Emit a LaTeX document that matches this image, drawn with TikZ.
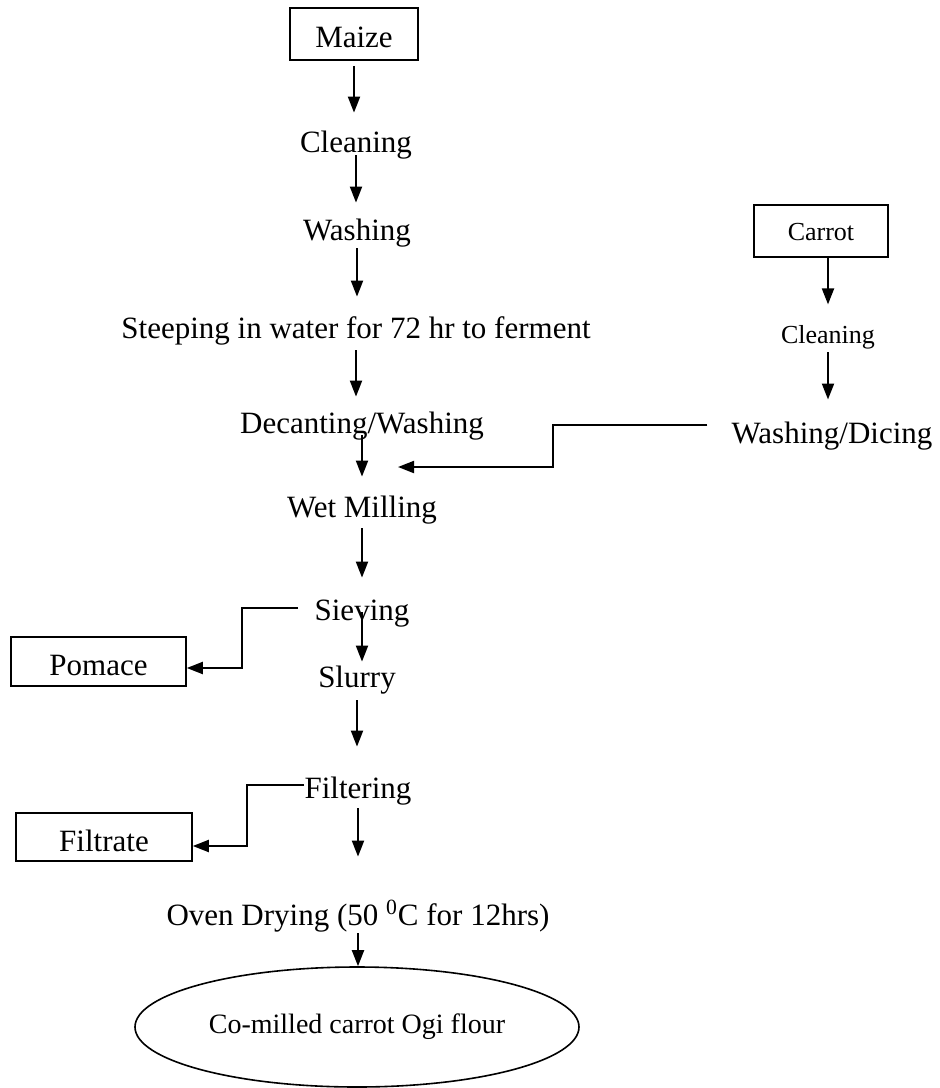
\documentclass[tikz,border=0pt]{standalone}
\usepackage{fontspec}
\setmainfont{Liberation Serif}
\usetikzlibrary{arrows.meta,shapes.geometric}

\begin{document}
\begin{tikzpicture}[x=.5pt,y=-.5pt,font=\fontsize{15.5}{18}\selectfont,
 >={Triangle[length=8pt,width=6pt]},
 stage/.style={inner sep=0pt,text height=10.85pt,text depth=3.4pt,anchor=base},
 stagebox/.style={draw,line width=.8pt,inner sep=0pt,text height=13.5pt,text depth=0pt},
 smalltext/.style={font=\fontsize{13}{15}\selectfont,text height=9.1pt,text depth=2.86pt},
 flow/.style={->,line width=1pt}]
\useasboundingbox (0,0) rectangle (939,1088);
% Maize line, top to bottom.
\node[stagebox,minimum width=64pt,minimum height=26pt,text height=13.2pt] (maize) at (354,34) {Maize};
\node[stage] (clean1) at (356,152) {Cleaning};
\node[stage] (wash1) at (357,240) {Washing};
\node[stage] (steep) at (356,338) {Steeping in water for 72 hr to ferment};
\node[stage] (decant) at (362,433) {Decanting/Washing};
\node[stage] (wetmill) at (362,517) {Wet Milling};
\node[stage] (sieve) at (362,620) {Sieving};
\node[stage] (slurry) at (357,687) {Slurry};
\node[stage] (filt) at (358,798) {Filtering};
\node[stage] (oven) at (358,925) {Oven Drying (50 \textsuperscript{0}C for 12hrs)};
\node[ellipse,draw,line width=.8pt,minimum width=222pt,minimum height=60pt,inner sep=0pt,
 font=\fontsize{14}{16}\selectfont] (flour) at (357,1027) {Co-milled carrot Ogi flour};
\draw[flow,shorten <=2.5pt,shorten >=8.65pt] (maize.south) -- (maize.south |- clean1.north);
\draw[flow,shorten <=-1.9pt,shorten >=7.65pt] (clean1.south) -- (clean1.south |- wash1.north);
\draw[flow,shorten <=.6pt,shorten >=9.65pt] (wash1.south) -- (wash1.south |- steep.north);
\draw[flow,shorten <=2.6pt,shorten >=7.15pt] (steep.south) -- (steep.south |- decant.north);
\draw[flow,shorten <=-2.4pt,shorten >=9.15pt] (decant.south) -- (decant.south |- wetmill.north);
\draw[flow,shorten <=2.1pt,shorten >=10.15pt] (wetmill.south) -- (wetmill.south |- sieve.north);
\draw[flow,shorten <=-7.4pt,shorten >=1.65pt] (sieve.south) -- (sieve.south |- slurry.north);
\draw[flow,shorten <=3.1pt,shorten >=14.65pt] (slurry.south) -- (slurry.south |- filt.north);
\draw[flow,shorten <=1.6pt,shorten >=23.15pt] (filt.south) -- (filt.south |- oven.north);
\draw[flow,shorten <=.6pt] (oven.south) -- (oven.south |- flour.north);
% Carrot line, joining before wet milling.
\node[stagebox,smalltext,minimum width=67pt,minimum height=26pt,text height=9.6pt,text depth=0pt] (carrot) at (821,231) {Carrot};
\node[stage,smalltext] (clean2) at (828,343) {Cleaning};
\node[stage] (wd) at (832,443) {Washing/Dicing};
\coordinate (merge) at (398,467);
\draw[flow,shorten >=10pt] (clean2 |- carrot.south) -- (clean2.north);
\draw[flow,shorten <=1.6pt,shorten >=10.7pt] (clean2.south) -- (clean2.south |- wd.north);
\draw[flow] ([xshift=-12pt,yshift=5.25pt]wd.west) -- ++(-154,0) |- (merge);
% By-products taken off to the left.
\node[stagebox,minimum width=87.5pt,minimum height=24.5pt,text height=14.2pt] (pomace) at (98.5,661.5) {Pomace};
\node[stagebox,minimum width=88pt,minimum height=24pt,text height=14.4pt] (filtrate) at (104,837) {Filtrate};
\draw[flow] ([xshift=-8pt,yshift=2.4pt]sieve.west) -- ++(-56,0) |- ([yshift=-3.25pt]pomace.east);
\draw[flow] ([yshift=2.9pt]filt.west) -- ++(-57,0) |- ([yshift=-4.5pt]filtrate.east);
\end{tikzpicture}
\end{document}
